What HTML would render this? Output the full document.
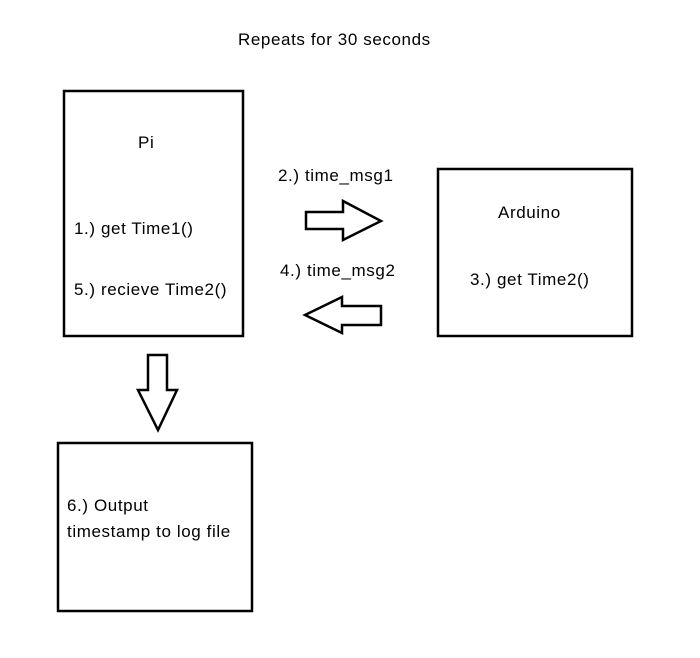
<!DOCTYPE html>
<html><head><style>
body{margin:0;background:#fff;}
svg text{font-family:"Liberation Sans",sans-serif;font-size:17px;letter-spacing:0.6px;fill:#000;}
</style></head><body>
<svg width="700" height="653" xmlns="http://www.w3.org/2000/svg">
<rect width="700" height="653" fill="#fff"/>
<g fill="none" stroke="#000" stroke-width="2.5">
<rect x="64" y="91" width="179" height="245"/>
<rect x="438" y="169" width="194" height="167"/>
<rect x="58" y="443" width="194" height="168"/>
<polygon points="306,212 343,212 343,201 381,221 343,240 343,229 306,229"/>
<polygon points="381,306 342,306 342,297 305,315 342,333 342,325 381,325"/>
<polygon points="148,355 167,355 167,390 177,390 158,430 138,390 148,390"/>
</g>
<text x="238" y="45">Repeats for 30 seconds</text>
<text x="138" y="148">Pi</text>
<text x="74" y="234">1.) get Time1()</text>
<text x="74" y="295">5.) recieve Time2()</text>
<text x="278" y="181">2.) time_msg1</text>
<text x="280" y="276">4.) time_msg2</text>
<text x="498" y="218">Arduino</text>
<text x="470" y="285">3.) get Time2()</text>
<text x="67" y="511">6.) Output</text>
<text x="67" y="537">timestamp to log file</text>
</svg>
</body></html>
